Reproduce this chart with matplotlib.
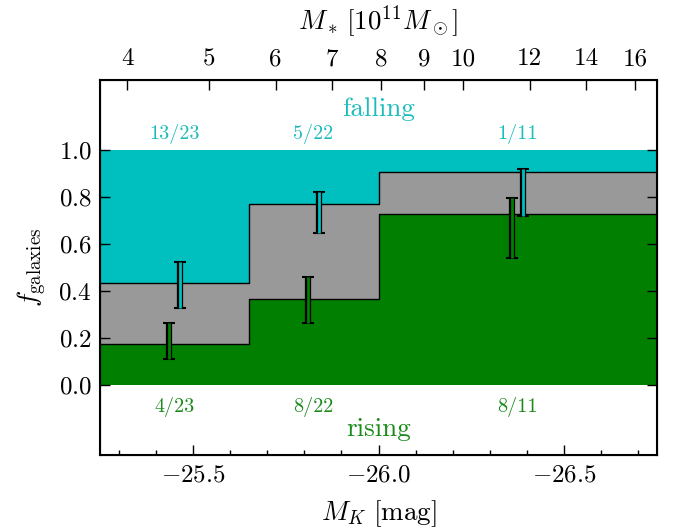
import numpy as np
import matplotlib
matplotlib.use("Agg")
import matplotlib.pyplot as plt

plt.rcParams["mathtext.fontset"] = "cm"
plt.rcParams["font.family"] = "serif"
plt.rcParams["font.serif"] = ["cmr10", "DejaVu Serif"]
plt.rcParams["axes.formatter.use_mathtext"] = True

# Bin edges in M_K and galaxy counts per bin
bin_edges = [-25.25, -25.65, -26.0, -26.75]
n_total = [23, 22, 11]
n_rising = [4, 8, 8]
n_falling = [13, 5, 1]

# Error bar ranges (lower, upper)
rising_lo = [0.111, 0.264, 0.54]
rising_hi = [0.265, 0.46, 0.797]
falling_lo = [0.328, 0.648, 0.719]   # on 1 - f_falling scale
falling_hi = [0.523, 0.824, 0.920]

# Top axis stellar mass ticks [1e11 Msun]
mass_ticks = [4, 5, 6, 7, 8, 9, 10, 12, 14, 16]

cyan = "#00bfbf"
green = "#007f00"
gray = "#999999"
text_cyan = "#1cbcbc"
text_green = "#1a8a1a"

f_rise = np.array(n_rising) / np.array(n_total)
f_fall_top = 1 - np.array(n_falling) / np.array(n_total)
centers = [(bin_edges[i] + bin_edges[i + 1]) / 2 for i in range(3)]

fig = plt.figure(figsize=(6.77, 5.29), dpi=100)
ax = fig.add_axes([0.1477, 0.1399, 0.8228, 0.7089])

x = np.array(bin_edges)
ax.fill_between(x, 0, 1, color=cyan, lw=0)
ax.fill_between(x, 0, np.append(f_fall_top, f_fall_top[-1]), step="post", color=gray, lw=0)
ax.fill_between(x, 0, np.append(f_rise, f_rise[-1]), step="post", color=green, lw=0)
ax.step(x, np.append(f_fall_top, f_fall_top[-1]), where="post", color="k", lw=1)
ax.step(x, np.append(f_rise, f_rise[-1]), where="post", color="k", lw=1)

off = 0.015
xr = np.array(centers) + off
xf = np.array(centers) - off
for xs, lo, hi, y, col in [(xr, rising_lo, rising_hi, f_rise, green),
                           (xf, falling_lo, falling_hi, f_fall_top, cyan)]:
    lo = np.array(lo)
    hi = np.array(hi)
    yerr = [y - lo, hi - y]
    ax.errorbar(xs, y, yerr=yerr, fmt="none", ecolor="k", elinewidth=4.5,
                capsize=4.5, capthick=1.5, zorder=5)
    ax.errorbar(xs, y, yerr=yerr, fmt="none", ecolor=col, elinewidth=2,
                capsize=0, zorder=6)

for c, nf, nr, nt in zip(centers, n_falling, n_rising, n_total):
    ax.text(c, 1.07, f"{nf}/{nt}", color=text_cyan, fontsize=14.5, ha="center", va="center")
    ax.text(c, -0.095, f"{nr}/{nt}", color=text_green, fontsize=14.5, ha="center", va="center")
ax.text(-26.0, 1.175, "falling", color=text_cyan, fontsize=19.5, ha="center", va="center")
ax.text(-26.0, -0.19, "rising", color=text_green, fontsize=19.5, ha="center", va="center")

ax.set_xlim(bin_edges[0], bin_edges[-1])
ax.set_ylim(-0.3, 1.3)
ax.set_xticks([-25.5, -26.0, -26.5])
ax.set_xticks(np.arange(-25.3, -26.75, -0.1), minor=True)
ax.set_yticks([0.0, 0.2, 0.4, 0.6, 0.8, 1.0])
ax.tick_params(axis="both", which="major", direction="in", length=7, width=1,
               labelsize=18, pad=7)
ax.tick_params(axis="x", which="minor", direction="in", length=3.5, width=1)
ax.tick_params(axis="y", right=True, pad=6)
ax.tick_params(axis="x", top=False)
ax.set_xlabel(r"$M_K\ [\mathrm{mag}]$", fontsize=19.5, labelpad=8)
ax.set_ylabel(r"$f_{\mathrm{galaxies}}$", fontsize=19.5, labelpad=7)
for s in ax.spines.values():
    s.set_linewidth(1.5)

# Cappellari (2013) M_K - stellar mass relation
ax2 = ax.twiny()
ax2.set_xlim(ax.get_xlim())
mk_ticks = [-23 - (np.log10(m * 1e11) - 10.58) / 0.44 for m in mass_ticks]
ax2.set_xticks(mk_ticks)
ax2.set_xticklabels([str(m) for m in mass_ticks])
ax2.tick_params(axis="x", direction="in", length=7, width=1, labelsize=18, pad=7)
ax2.set_xlabel(r"$M_*\,[10^{11} M_\odot]$", fontsize=19.5, labelpad=13)

fig.savefig("out.png", dpi=100)
